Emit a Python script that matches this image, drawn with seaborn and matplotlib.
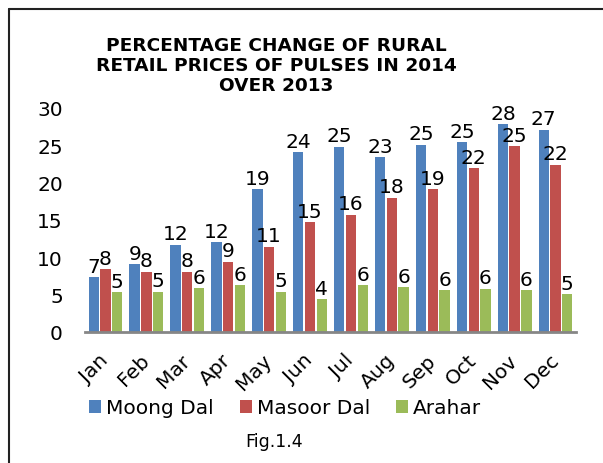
import matplotlib
matplotlib.use("Agg")
import matplotlib.pyplot as plt
from matplotlib.lines import Line2D
from matplotlib.transforms import ScaledTranslation
import pandas as pd
import seaborn as sns

months = ["Jan", "Feb", "Mar", "Apr", "May", "Jun",
          "Jul", "Aug", "Sep", "Oct", "Nov", "Dec"]
series_names = ["Moong Dal", "Masoor Dal", "Arahar"]
moong_dal = [7.3, 9.1, 11.7, 12.0, 19.1, 24.1, 24.8, 23.4, 25.1, 25.4, 27.8, 27.1]
masoor_dal = [8.4, 8.1, 8.1, 9.4, 11.4, 14.7, 15.7, 18.0, 19.1, 21.9, 24.9, 22.4]
arahar = [5.3, 5.4, 5.9, 6.3, 5.4, 4.4, 6.3, 6.0, 5.6, 5.8, 5.6, 5.1]
colors = ["#4F81BD", "#C0504D", "#9BBB59"]
y_ticks = [0, 5, 10, 15, 20, 25, 30]

df = pd.DataFrame({
    "Month": months * 3,
    "Series": [s for s in series_names for _ in months],
    "Value": moong_dal + masoor_dal + arahar,
})

sns.set_style("white")
plt.rcParams["font.family"] = ["DejaVu Sans"]
plt.rcParams["text.color"] = "black"
plt.rcParams["xtick.color"] = "black"
plt.rcParams["ytick.color"] = "black"

fig = plt.figure(figsize=(6.03, 4.64), dpi=100)
ax = fig.add_axes([85 / 603, 1 - 333 / 464, (576 - 85) / 603, (333 - 109) / 464])

sns.barplot(data=df, x="Month", y="Value", hue="Series", order=months,
            hue_order=series_names, palette=colors, width=0.86, gap=0.12,
            errorbar=None, linewidth=0, saturation=1, ax=ax)

for cont in ax.containers:
    ax.bar_label(cont, fmt="{:.0f}", padding=1, fontsize=14.5, color="black")

ax.set_ylim(0, 30)
ax.set_yticks(y_ticks)
ax.set_yticklabels([str(v) for v in y_ticks], fontsize=14.5)
ax.set_xlim(-0.5, len(months) - 0.5)
ax.set_xlabel("")
ax.set_ylabel("")
ax.tick_params(axis="y", length=0, pad=16)
ax.tick_params(axis="x", length=0, pad=13)
shift_left = ScaledTranslation(-5 / 72, 0, fig.dpi_scale_trans)
for lbl in ax.get_xticklabels():
    lbl.set_rotation(45)
    lbl.set_ha("right")
    lbl.set_va("top")
    lbl.set_rotation_mode("anchor")
    lbl.set_fontsize(14.5)
    lbl.set_transform(lbl.get_transform() + shift_left)

for side in ["left", "right", "top"]:
    ax.spines[side].set_visible(False)
ax.spines["bottom"].set_color("#868686")
ax.spines["bottom"].set_linewidth(2)

handles, labels = ax.get_legend_handles_labels()
ax.get_legend().remove()
fig.legend(handles, labels, loc="center", bbox_to_anchor=(285 / 603, 1 - 409 / 464),
           ncol=3, frameon=False, fontsize=14.5, handlelength=0.6, handleheight=0.6,
           handletextpad=0.25, columnspacing=1.3)

fig.text(276 / 603, 1 - 66 / 464,
         "PERCENTAGE CHANGE OF RURAL\nRETAIL PRICES OF PULSES IN 2014\nOVER 2013",
         ha="center", va="center", fontsize=13.3, fontweight="bold", linespacing=1.15)
fig.text(274 / 603, 1 - 442 / 464, "Fig.1.4", ha="center", va="center", fontsize=12.5)

# frame lines around the figure
fig.add_artist(Line2D([8.5 / 603, 8.5 / 603], [0, 1 - 10 / 464],
                      transform=fig.transFigure, color="#222222", linewidth=1.5))
fig.add_artist(Line2D([8.5 / 603, 1], [1 - 10 / 464, 1 - 10 / 464],
                      transform=fig.transFigure, color="#222222", linewidth=1.5))

fig.savefig("out.png", dpi=100)
